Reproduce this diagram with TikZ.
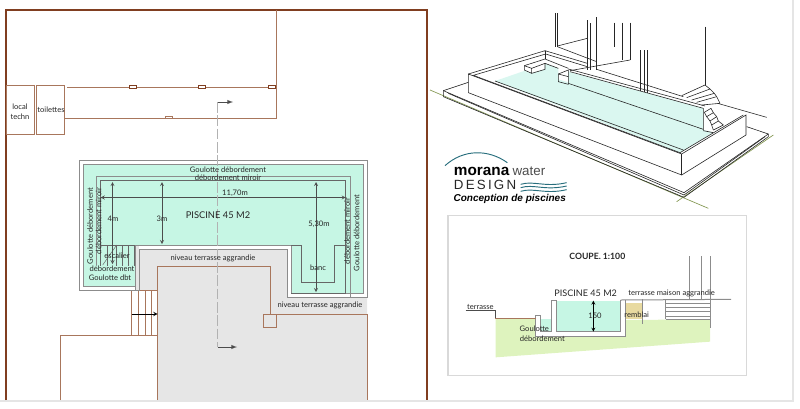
\documentclass[tikz,border=0pt]{standalone}
\usepackage{fontspec}
\setmainfont{Lato}
\newfontfamily\logofont{Liberation Sans}
\usepackage{tikz}
\usetikzlibrary{arrows}

\definecolor{wallbrown}{RGB}{128,62,32}
\definecolor{linebrown}{RGB}{168,118,92}
\definecolor{poolgreen}{RGB}{198,246,228}
\definecolor{deckgrey}{RGB}{230,230,230}
\definecolor{rimgrey}{RGB}{140,140,140}
\definecolor{soilgreen}{RGB}{222,243,190}
\definecolor{fillsand}{RGB}{232,218,160}
\definecolor{logoteal}{RGB}{40,110,125}
\definecolor{isowater}{RGB}{218,247,240}
\definecolor{groundline}{RGB}{130,150,80}
\tikzset{
    lab/.style={inner sep=0pt,text=black!85,font=\fontsize{5.7}{6.5}\selectfont,align=center},
    brownline/.style={draw=linebrown,line width=0.75pt},
    rim/.style={draw=rimgrey,line width=0.75pt},
    inkline/.style={draw=black!60,line width=0.5pt},
    iso/.style={draw=black!85,line width=0.45pt},
    dim/.style={draw=black!70,line width=0.35pt,>=stealth,<->},
    dimend/.style={draw=black!70,line width=0.35pt,>=stealth,->},
}

\begin{document}
\begin{tikzpicture}[x=0.75pt,y=-0.75pt]
\useasboundingbox (0,0) rectangle (800,408);
\draw [black!10,line width=1.5pt] (0,401) -- (793,401) -- (793,0);

% site walls
\draw [wallbrown,line width=1.7pt] (6,400) -- (6,10) -- (427,10) -- (427,400);
\draw [brownline] (6,85) rectangle (34,134);
\draw [brownline] (36,85) rectangle (64,134);
\node [lab] (techn) at (20,112) {local\\[1pt]techn};
\node [lab] (wc) at (51,110) {toilettes};
\draw [brownline] (67,87.5) -- (276,87.5);
\draw [brownline] (64,118.5) -- (276,118.5) -- (276,10);
\foreach \x in {129,198,268}
    \draw [wallbrown,fill=white,line width=0.5pt] (\x,85.5) rectangle (\x+7.5,88.5);
\draw [brownline,fill=white,line width=0.5pt] (165,116) rectangle (172.5,118.5);

% terrace
\fill [deckgrey] (139,249) -- (287,249) -- (287,297) -- (367,297) -- (367,400) -- (157.7,400) -- (157.7,290) -- (139,290) -- cycle;
\draw [brownline] (157.7,400) -- (157.7,266.7) -- (270,266.7) -- (270,314) -- (367,314) -- (367,400);
\draw [brownline,fill=deckgrey] (263.5,314) rectangle (276.5,327);

% stairs
\foreach \x in {131.7,138.5,145,151.5}
    \draw [brownline] (\x,290) -- (\x,335.5);
\draw [brownline] (131.7,290) -- (157.7,290);
\draw [brownline] (60,400) -- (60,335.5) -- (157.7,335.5);
\coordinate (stairin) at (131.7,314);
\coordinate (stairout) at (157.7,314);
\draw [dimend,draw=black,line width=0.5pt] (stairin) -- (stairout);

% pool plan
\draw [rim,fill=white] (79,160) -- (367,160) -- (367,297) -- (287,297) -- (287,249) -- (139,249) -- (139,290) -- (79,290) -- cycle;
\fill [poolgreen] (83,164) -- (363,164) -- (363,293) -- (291,293) -- (291,245) -- (135,245) -- (135,286) -- (83,286) -- cycle;
\fill [deckgrey] (135,245) rectangle (139,290);
\draw [rim] (135,290) -- (135,286) -- (83,286) -- (83,164) -- (363,164) -- (363,293) -- (291,293) -- (291,245) -- (135,245) -- (135,290);
\draw [rim] (139,249) -- (139,290);
\draw [rim] (96.7,265) -- (96.7,176.7) -- (350,176.7) -- (350,297);
\draw [inkline] (100.7,245) -- (100.7,180.5) -- (345.7,180.5) -- (345.7,293) -- (291,293);
\draw [inkline] (100.7,245) -- (135,245);
\draw [inkline] (291,245) -- (301.7,245) -- (301.7,282.5) -- (334,282.5) -- (334,245) -- (345.7,245);
\foreach \x in {100.7,107,116.7,122.7,128.3,134}
    \draw [inkline,line width=0.35pt] (\x,245) -- (\x,266);
\draw [inkline,line width=0.35pt] (116.7,245) -- (102.7,265);

% dimensions
\coordinate (widthl) at (100.7,197.5);
\coordinate (widthr) at (345.7,197.5);
\draw [dim] (widthl) -- (widthr);
\coordinate (depa) at (112.5,182);
\coordinate (depb) at (112.5,264);
\draw [dim] (depa) -- (depb);
\coordinate (depc) at (162,182);
\coordinate (depd) at (162,244);
\draw [dim] (depc) -- (depd);
\coordinate (depe) at (316,182);
\coordinate (depf) at (316,292);
\draw [dim] (depe) -- (depf);

% section arrow
\coordinate (cutup) at (233,102);
\coordinate (cutdown) at (237,347);
\draw [draw=black!30,line width=0.5pt,dash pattern=on 8pt off 2pt] (217.5,102) -- (217.5,347);
\draw [dimend,line width=0.45pt,>=latex] (217.5,102) -- (cutup);
\draw [dimend,line width=0.45pt,>=latex] (217.5,347) -- (cutdown);

% plan labels
\node [lab] (gtop) at (228,170) {Goulotte débordement};
\node [lab] (mtop) at (228,178) {débordement miroir};
\node [lab] (width) at (235,193) {11,70m};
\node [lab,font=\fontsize{7}{8}\selectfont] (poolname) at (218,215) {PISCINE 45 M2};
\node [lab] (d4) at (113,219) {4m};
\node [lab] (d3) at (162,219) {3m};
\node [lab] (d5) at (319,224) {5,30m};
\node [lab] (banc) at (318,268) {banc};
\node [lab] (nivA) at (213,258) {niveau terrasse aggrandie};
\node [lab] (nivB) at (320,305) {niveau terrasse aggrandie};
\node [lab,rotate=90] (gl) at (90,226) {Goulotte débordement};
\node [lab,rotate=90] (ml) at (98.5,221) {débordement miroir};
\node [lab,rotate=90] (mr) at (347,231) {débordement miroir};
\node [lab,rotate=90] (gr) at (356.7,233) {Goulotte débordement};
\node [lab] (esc) at (117,255.5) {escalier};
\node [lab] (dbt) at (112,268.5) {débordement};
\node [lab] (gdbt) at (110,277.5) {Goulotte dbt};

% perspective view, zoom grid
\begin{scope}[shift={(430,0)},x=0.25pt,y=-0.25pt]
\draw [groundline,line width=0.5pt] (0,270) -- (835,625);
\draw [groundline,line width=0.5pt] (740,605) -- (1030,405);
\fill [isowater] (195,243) -- (285,212) -- (305,220) -- (345,208) -- (345,190) -- (385,205) -- (385,238) -- (415,247) -- (415,215) -- (820,325) -- (820,390) -- (850,397) -- (750,458) -- cycle;
% slab
\draw [iso] (115,247) -- (40,272) -- (40,290) -- (762,592) -- (1015,410) -- (1015,402) -- (950,380);
\draw [iso] (40,272) -- (762,578) -- (1015,402);
\draw [iso] (55,280) -- (762,585) -- (1005,410);
% box
\draw [iso] (115,222) -- (115,278) -- (755,525) -- (948,405) -- (948,345) -- (755,462) -- cycle;
\draw [iso] (755,462) -- (755,525);
\draw [iso] (115,222) -- (345,152) -- (347,162) -- (130,226) -- (750,458) -- (940,345);
\draw [iso] (195,243) -- (760,450);
% bench and step
\draw [iso] (283,197) -- (345,177) -- (415,205);
\draw [iso] (283,197) -- (283,210) -- (305,220) -- (305,205) -- (283,197);
\draw [iso] (305,205) -- (345,190) -- (385,205);
\draw [iso] (305,220) -- (345,208) -- (345,190);
\draw [iso] (345,152) -- (345,177);
\draw [iso] (385,222) -- (415,210) -- (415,253) -- (385,245) -- cycle;
\draw [iso] (385,222) -- (415,230);
% inner wall
\draw [iso] (345,152) -- (472,190);
\draw [iso] (347,162) -- (472,200);
\draw [iso] (415,207) -- (825,318);
\draw [iso] (420,215) -- (820,325) -- (820,392);
\draw [iso] (415,250) -- (820,388);
\draw [iso] (820,392) -- (850,398);
% house
\foreach \x/\a/\b in {375/40/140,382/40/140,472/60/210,482/70/210,498/52/210,552/68/140,577/68/180,600/68/180,632/150/272,642/150/275,652/150/280,825/80/255}
    \draw [iso] (\x,\a) -- (\x,\b);
\draw [iso] (382,138) -- (472,115);
\draw [iso] (420,212) -- (600,180);
\draw [iso] (382,140) -- (500,185);
\draw [iso] (500,208) -- (760,290);
\draw [iso] (863,310) -- (1010,352);
% upper steps
\foreach \a/\b/\c/\d in {755/287/825/255,770/293/840/267,785/300/853/280,800/307/860/290,815/315/870/310}
    \draw [iso] (\a,\b) -- (\c,\d);
\draw [iso] (825,255) -- (840,267) -- (853,280) -- (860,290) -- (870,310);
% lower steps
\foreach \a/\b/\c/\d in {823/337/843/325,830/350/850/338,840/363/860/350,845/375/865/363,850/390/880/375}
    \draw [iso] (\a,\b) -- (\c,\d);
\draw [iso] (823,337) -- (830,350) -- (840,363) -- (845,375) -- (850,390);
\draw [iso] (843,325) -- (850,338) -- (860,350) -- (865,363) -- (880,375);
% logo
\draw [logoteal,line width=0.7pt] (45,497) .. controls (100,447) and (175,447) .. (232,488);
\node [inner sep=0pt,anchor=base west,font=\logofont\bfseries\fontsize{11.5}{12}\selectfont] (logoa) at (71,527) {morana};
\node [inner sep=0pt,anchor=base west,text=black!70,font=\logofont\fontsize{10}{11}\selectfont] (logob) at (247,527) {water};
\node [inner sep=0pt,anchor=base west,text=black!85,font=\logofont\fontsize{10}{11}\selectfont] (logoc) at (71,567) {D\,E\,S\,I\,G\,N};
\foreach \y in {553,563,574}
    \draw [logoteal,line width=0.7pt] (272,\y) .. controls (310,\y-12) and (345,\y+10) .. (410,\y-5);
\node [inner sep=0pt,anchor=base west,font=\logofont\bfseries\itshape\fontsize{7.5}{9}\selectfont] (logod) at (70,605) {Conception de piscines};
\end{scope}

% section, zoom grid
\draw [black!15,line width=0.8pt] (448,215.5) rectangle (746.7,375.7);
\begin{scope}[shift={(445,230)},x=0.25pt,y=-0.25pt]
\fill [soilgreen] (152,266) -- (272,266) -- (272,318) -- (542,318) -- (542,270) -- (795,268) -- (795,335) -- (152,382) -- cycle;
\fill [poolgreen] (333,212) rectangle (527,305);
\fill [poolgreen] (285,268) rectangle (320,305);
\fill [fillsand] (542,218) rectangle (592,268);
\draw [rim] (272,266) -- (272,255) -- (285,255) -- (285,305) -- (320,305) -- (320,212) -- (333,212) -- (333,305) -- (527,305) -- (527,210);
\draw [rim] (527,210) -- (858,208);
\draw [rim] (272,266) -- (272,318) -- (542,318) -- (542,210);
\draw [draw=black!70,line width=0.5pt] (62,240) -- (150,240) -- (150,266);
\draw [linebrown,line width=0.5pt] (150,266) -- (272,266);
\draw [rim] (592,208) -- (592,282);
\draw [rim,line width=0.5pt] (662,208) -- (662,268);
\foreach \y in {220,232,245,258,268}
    \draw [rim,line width=0.5pt] (662,\y) -- (795,\y);
\foreach \x/\b in {733/208,770/208,795/295}
    \draw [rim] (\x,78) -- (\x,\b);
\coordinate (sectop) at (445,212);
\coordinate (secbot) at (445,305);
\draw [dim,draw=black] (sectop) -- (secbot);
\node [lab,font=\bfseries\fontsize{6.5}{7}\selectfont] (coupe) at (457,78) {COUPE. 1:100};
\node [lab,font=\fontsize{6.8}{8}\selectfont] (secpool) at (422,190) {PISCINE 45 M2};
\node [lab] (secmaison) at (680,190) {terrasse maison aggrandie};
\node [lab] (secterr) at (106,232) {terrasse};
\node [lab] (sec150) at (450,258) {150};
\node [lab] (secfill) at (575,253) {remblai};
\node [lab] (secgoul) at (268,295) {Goulotte};
\node [lab] (secdeb) at (292,326) {débordement};
\end{scope}
\end{tikzpicture}
\end{document}
